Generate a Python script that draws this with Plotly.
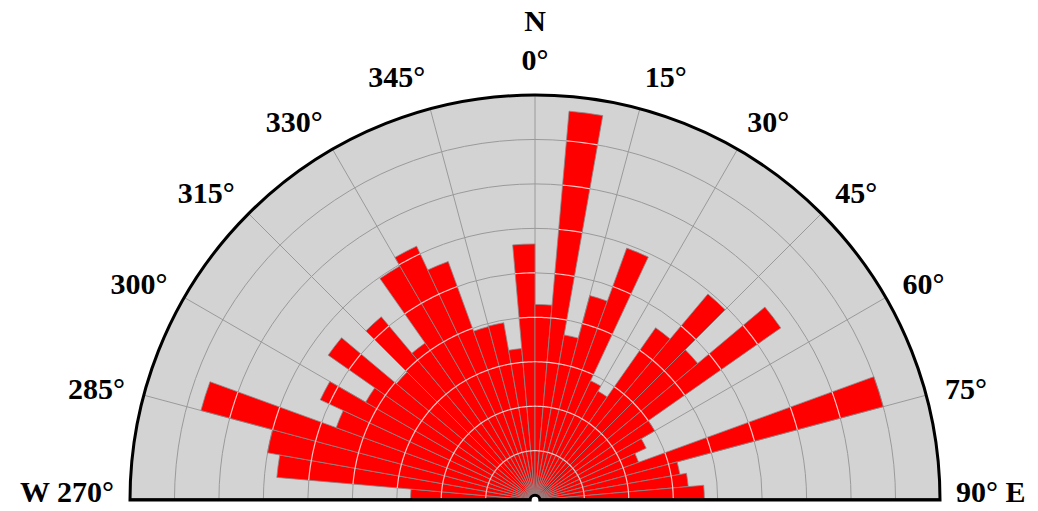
import numpy as np
import plotly.graph_objects as go

# ---- data (5-degree bins, compass angle of bin start) ----
bin_start = [270, 275, 280, 285, 290, 295, 300, 305, 310, 315, 320, 325,
             330, 335, 340, 345, 350, 355, 0, 5, 10, 15, 20, 25,
             30, 35, 40, 45, 50, 55, 60, 65, 70, 75, 80, 85]
bin_value = [2.69, 5.72, 6.0, 7.67, 4.65, 5.22, 4.29, 5.57, 3.96, 5.27, 4.2, 5.97,
             6.19, 5.6, 3.93, 3.94, 3.31, 5.65, 4.29, 8.67, 3.66, 4.65, 5.92, 2.85,
             2.72, 4.62, 5.94, 4.67, 6.64, 3.0, 2.65, 2.37, 8.0, 3.2, 3.35, 3.7]
bin_width = 5
r_max = 9
ring_values = [1, 2, 3, 4, 5, 6, 7, 8]
# tick angles expressed in [-90, 90] (west side as negative compass angles)
tick_angles = [-90, -75, -60, -45, -30, -15, 0, 15, 30, 45, 60, 75, 90]
tick_labels = ["", "285°", "300°", "315°", "330°", "345°", "N<br>0°",
               "15°", "30°", "45°", "60°", "75°", ""]
west_label = "W 270°"
east_label = "90° E"

centers = [(b + bin_width / 2) % 360 for b in bin_start]

fig = go.Figure()
fig.add_trace(go.Barpolar(
    r=bin_value, theta=centers, width=[bin_width] * len(centers),
    marker=dict(color="#ff0000", line=dict(color="#8a8a8a", width=0.8)),
    hoverinfo="skip", showlegend=False,
))

# light ring lines visible across the red bars
rr, tt = [], []
for c, v in zip(centers, bin_value):
    for k in ring_values:
        if k < v:
            th = np.linspace(c - bin_width / 2, c + bin_width / 2, 8)
            rr += [k] * len(th) + [None]
            tt += list(th) + [None]
fig.add_trace(go.Scatterpolar(
    r=rr, theta=tt, mode="lines",
    line=dict(color="rgba(255,215,215,0.9)", width=1.2),
    hoverinfo="skip", showlegend=False, connectgaps=False,
))

# baseline W-E
fig.add_trace(go.Scatterpolar(
    r=[r_max, r_max], theta=[270, 90], mode="lines",
    line=dict(color="black", width=3.5),
    hoverinfo="skip", showlegend=False,
))

label_font = dict(family="Liberation Serif", size=30, color="black", weight="bold")

fig.update_layout(
    width=1038, height=511,
    margin=dict(l=130, r=98, t=95, b=11),
    paper_bgcolor="white",
    font=label_font,
    polar=dict(
        sector=[0, 180],
        hole=0.012,
        bgcolor="#d3d3d3",
        domain=dict(x=[0, 1], y=[0, 1]),
        radialaxis=dict(range=[0, r_max], tickvals=ring_values + [r_max],
                        showticklabels=False, ticks="", showline=False,
                        gridcolor="#9a9a9a", gridwidth=1.2),
        angularaxis=dict(rotation=90, direction="clockwise",
                         tickvals=tick_angles, ticktext=tick_labels,
                         ticks="outside", ticklen=12, tickcolor="rgba(0,0,0,0)",
                         showline=True, linecolor="black", linewidth=3,
                         gridcolor="#9a9a9a", gridwidth=1.2,
                         tickfont=label_font),
    ),
    annotations=[
        dict(text=west_label, xref="paper", yref="paper", x=0, y=0,
             xanchor="right", yanchor="middle", xshift=-14, yshift=9,
             showarrow=False, font=label_font),
        dict(text=east_label, xref="paper", yref="paper", x=1, y=0,
             xanchor="left", yanchor="middle", xshift=14, yshift=9,
             showarrow=False, font=label_font),
    ],
)

fig.write_html("out.html")
